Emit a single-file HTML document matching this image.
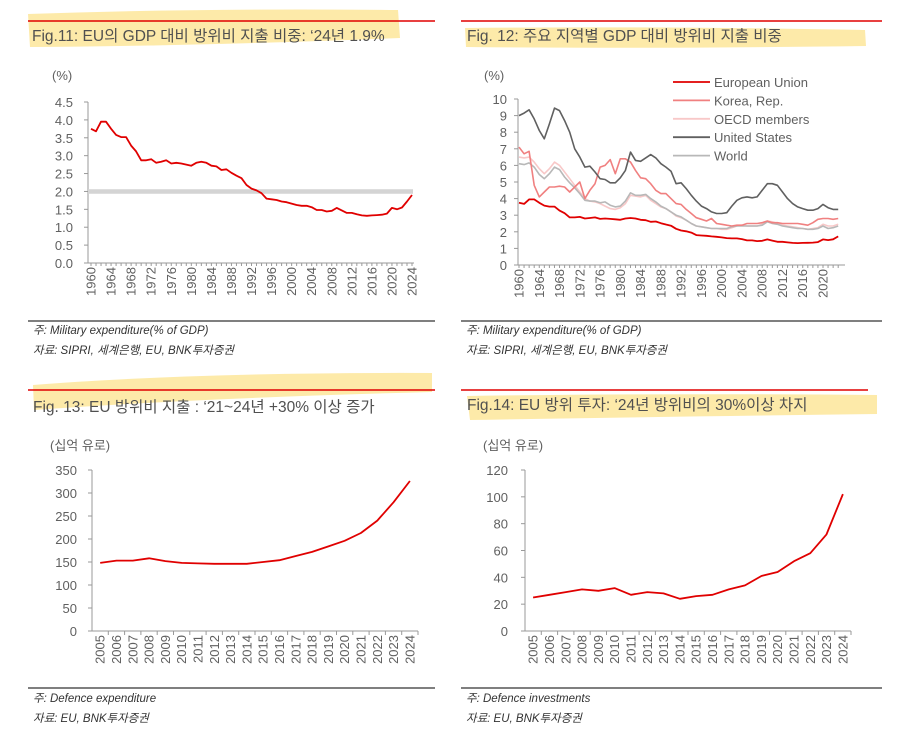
<!DOCTYPE html>
<html><head><meta charset="utf-8">
<style>
body{margin:0;background:#fff;width:913px;height:738px;overflow:hidden}
svg{display:block;font-family:"Liberation Sans","Noto Sans CJK KR",sans-serif}
.t{font-size:15.5px;fill:#505050;font-weight:normal}
.n{font-size:11.5px;fill:#333;font-style:italic}
.ax{font-size:13px;fill:#606060}
</style></head>
<body>
<svg id="s" width="913" height="738">
<path d="M28 14 Q200 8 398 10 L400 38 Q200 46 30 47 Z" fill="#fde69a" opacity="0.85"/>
<path d="M465 28 Q650 26 865 30 L866 46 Q650 49 466 47 Z" fill="#fde69a" opacity="0.85"/>
<path d="M33 385 Q200 372 432 373 L432 392 Q200 398 34 410 Z" fill="#fde69a" opacity="0.85"/>
<path d="M467 396 Q650 393 877 395 L877 414 Q650 417 470 420 Z" fill="#fde69a" opacity="0.85"/>
<line x1="28" y1="21" x2="435" y2="21" stroke="#e00000" stroke-width="1.5"/>
<line x1="461" y1="21" x2="882" y2="21" stroke="#e00000" stroke-width="1.5"/>
<line x1="28" y1="390" x2="435" y2="390" stroke="#e00000" stroke-width="1.5"/>
<line x1="461" y1="390" x2="868" y2="390" stroke="#e00000" stroke-width="1.5"/>
<text class="t" x="32" y="41">Fig.11: EU의 GDP 대비 방위비 지출 비중: ‘24년 1.9%</text>
<text class="t" x="467" y="41">Fig. 12: 주요 지역별 GDP 대비 방위비 지출 비중</text>
<text class="t" x="33" y="412">Fig. 13: EU 방위비 지출 : ‘21~24년 +30% 이상 증가</text>
<text class="t" x="467" y="410">Fig.14: EU 방위 투자: ‘24년 방위비의 30%이상 차지</text>
<line x1="28" y1="321" x2="435" y2="321" stroke="#555" stroke-width="1.5"/>
<line x1="461" y1="321" x2="882" y2="321" stroke="#555" stroke-width="1.5"/>
<line x1="28" y1="688" x2="435" y2="688" stroke="#555" stroke-width="1.5"/>
<line x1="461" y1="688" x2="882" y2="688" stroke="#555" stroke-width="1.5"/>
<text class="n" x="33" y="334">주: Military expenditure(% of GDP)</text>
<text class="n" x="33" y="354">자료: SIPRI, 세계은행, EU, BNK투자증권</text>
<text class="n" x="466" y="334">주: Military expenditure(% of GDP)</text>
<text class="n" x="466" y="354">자료: SIPRI, 세계은행, EU, BNK투자증권</text>
<text class="n" x="33" y="702">주: Defence expenditure</text>
<text class="n" x="33" y="722">자료: EU, BNK투자증권</text>
<text class="n" x="466" y="702">주: Defence investments</text>
<text class="n" x="466" y="722">자료: EU, BNK투자증권</text>
<text class="ax" x="52" y="80">(%)</text>
<text class="ax" x="484" y="80">(%)</text>
<text class="ax" x="50" y="450">(십억 유로)</text>
<text class="ax" x="483" y="450">(십억 유로)</text>
</svg>
<script>
const euGdp=[3.75,3.68,3.95,3.95,3.75,3.58,3.52,3.52,3.28,3.12,2.87,2.87,2.9,2.8,2.83,2.87,2.78,2.8,2.78,2.75,2.72,2.8,2.83,2.8,2.72,2.7,2.6,2.62,2.52,2.44,2.37,2.18,2.08,2.03,1.95,1.8,1.78,1.76,1.72,1.7,1.66,1.62,1.6,1.6,1.56,1.48,1.48,1.44,1.46,1.54,1.47,1.4,1.4,1.36,1.33,1.32,1.33,1.34,1.35,1.38,1.54,1.5,1.55,1.72,1.9];
const korea=[7.1,6.7,6.85,4.8,4.1,4.4,4.7,4.7,4.75,4.7,4.4,4.7,5.0,4.0,4.5,4.9,5.9,6.0,6.35,5.5,6.4,6.4,6.2,5.7,5.25,5.2,4.9,4.5,4.3,4.3,4.0,3.7,3.65,3.35,3.1,2.85,2.75,2.65,2.8,2.5,2.45,2.4,2.35,2.4,2.4,2.5,2.5,2.5,2.55,2.65,2.55,2.55,2.5,2.5,2.5,2.5,2.45,2.4,2.55,2.75,2.8,2.8,2.75,2.8];
const oecd=[6.5,6.45,6.5,6.2,5.8,5.5,5.8,6.2,6.0,5.6,5.2,4.8,4.4,4.0,3.85,3.8,3.7,3.55,3.4,3.35,3.45,3.7,4.2,4.15,4.1,4.2,3.9,3.7,3.5,3.4,3.2,2.95,2.85,2.7,2.5,2.35,2.3,2.25,2.2,2.2,2.15,2.15,2.25,2.35,2.4,2.35,2.35,2.35,2.45,2.65,2.6,2.5,2.4,2.35,2.3,2.25,2.2,2.15,2.2,2.25,2.45,2.35,2.35,2.45];
const usa=[9.0,9.15,9.35,8.8,8.1,7.6,8.5,9.45,9.3,8.7,8.0,7.0,6.5,5.9,5.95,5.6,5.2,5.15,4.95,4.95,5.25,5.7,6.8,6.3,6.25,6.45,6.65,6.45,6.1,5.9,5.65,4.9,4.95,4.6,4.2,3.85,3.55,3.4,3.2,3.1,3.1,3.15,3.55,3.9,4.05,4.1,4.05,4.1,4.5,4.9,4.9,4.8,4.4,4.0,3.7,3.5,3.4,3.3,3.3,3.4,3.65,3.45,3.35,3.35];
const world=[6.1,6.05,6.15,5.9,5.45,5.2,5.5,5.9,5.75,5.3,4.95,4.65,4.3,3.9,3.85,3.85,3.75,3.8,3.6,3.5,3.55,3.85,4.35,4.2,4.2,4.25,4.0,3.8,3.55,3.4,3.2,3.0,2.9,2.7,2.5,2.35,2.3,2.25,2.2,2.2,2.2,2.2,2.3,2.35,2.35,2.35,2.35,2.35,2.4,2.6,2.5,2.45,2.35,2.3,2.25,2.2,2.2,2.15,2.15,2.2,2.35,2.2,2.25,2.35];
const euSpend=[148,153,153,158,152,148,147,146,146,146,150,154,163,172,184,196,213,240,280,326];
const euInvest=[25,27,29,31,30,32,27,29,28,24,26,27,31,34,41,44,52,58,72,102];
const years1=[];for(let y=1960;y<=2024;y++)years1.push(y);
const years2=years1.slice(0,64);
const years3=[];for(let y=2005;y<=2024;y++)years3.push(y);
const ticks1=["0.0","0.5","1.0","1.5","2.0","2.5","3.0","3.5","4.0","4.5"];
const ticks2=["0","1","2","3","4","5","6","7","8","9","10"];
const ticks3=["0","50","100","150","200","250","300","350"];
const ticks4=["0","20","40","60","80","100","120"];
const seriesNames=["European Union","Korea, Rep.","OECD members","United States","World"];
const seriesColors=["#e00000","#f08080","#f8c8c8","#606060","#b8b8b8"];

const S=document.getElementById('s');const NS="http://www.w3.org/2000/svg";
function mk(t,a,p){const e=document.createElementNS(NS,t);for(const k in a)e.setAttribute(k,a[k]);(p||S).appendChild(e);return e;}
function yAxis(x0,x1,y0,y1,ticks,labX,name){
  const max=+ticks[ticks.length-1];const ys=v=>y0-(v/max)*(y0-y1);
  const l=mk('line',{x1:x0,y1:y0,x2:x0,y2:y1,stroke:'#999'});
  
  
  ticks.forEach(t=>{const y=ys(+t);mk('line',{x1:x0-4,y1:y,x2:x0,y2:y,stroke:'#999'});
    const tx=mk('text',{x:labX,y:y+5,'text-anchor':'end',class:'ax'});tx.textContent=t;
    
    });
  const b=mk('line',{x1:x0,y1:y0,x2:x1,y2:y0,stroke:'#999'});
  
  
  return ys;
}
function line(xs,ys,vals,color,w,name){
  const d=vals.map((v,i)=>(i?'L':'M')+xs(i).toFixed(1)+' '+ys(v).toFixed(1)).join(' ');
  const p=mk('path',{d:d,fill:'none',stroke:color,'stroke-width':w,'stroke-linejoin':'round'});
  
  
}
function yearLabels(xs,years,y,step,name){
  years.forEach((yr,i)=>{const x=xs(i);mk('line',{x1:x,y1:y,x2:x,y2:y+3,stroke:'#999'});
    if(i%step===0){const t=mk('text',{x:0,y:0,'text-anchor':'end',class:'ax',transform:`translate(${x+4.5},${y+4}) rotate(-90)`});t.textContent=yr;
    
    }});
}
{const ys=yAxis(88,414,263,102,ticks1,73,'fig11');const st=(412-91)/(years1.length-1);const xs=i=>91+i*st;
 const g=mk('line',{x1:88,y1:ys(2),x2:413,y2:ys(2),stroke:'#d4d4d4','stroke-width':4.5});
 
 
 line(xs,ys,euGdp,'#e00000',1.8,'eu-gdp-line');yearLabels(xs,years1,263,4,'fig11');}
{const ys=yAxis(518,845,265,99,ticks2,507,'fig12');const st=(823-519)/60;const xs=i=>519+i*st;
 const all=[euGdp.slice(0,64),korea,oecd,usa,world];
 [2,4,1,3,0].forEach(k=>line(xs,ys,all[k],seriesColors[k],k===0?1.8:1.6,'series-'+seriesNames[k].toLowerCase().replace(/[^a-z]+/g,'-')));
 yearLabels(xs,years2,265,4,'fig12');
 seriesNames.forEach((n,i)=>{const y=82+i*18.4;
  const g=mk('g',{});
  
  
  mk('line',{x1:673,y1:y,x2:710,y2:y,stroke:seriesColors[i],'stroke-width':1.8},g);
  const t=mk('text',{x:714,y:y+5,class:'ax'},g);t.textContent=n;});}
{const ys=yAxis(92,418,631,470,ticks3,77,'fig13');const bw=(418-92)/years3.length;const xs=i=>92+bw*(i+0.5);
 line(xs,ys,euSpend,'#e00000',1.8,'eu-defence-expenditure-line');
 years3.forEach((yr,i)=>{const x=92+bw*(i+1);mk('line',{x1:x,y1:631,x2:x,y2:635,stroke:'#999'});
  const t=mk('text',{x:0,y:0,'text-anchor':'end',class:'ax',transform:`translate(${xs(i)+4.5},${635}) rotate(-90)`});t.textContent=yr;
  
  });}
{const ys=yAxis(525,851,631,470,ticks4,508,'fig14');const bw=(851-525)/years3.length;const xs=i=>525+bw*(i+0.5);
 line(xs,ys,euInvest,'#e00000',1.8,'eu-defence-investment-line');
 years3.forEach((yr,i)=>{const x=525+bw*(i+1);mk('line',{x1:x,y1:631,x2:x,y2:635,stroke:'#999'});
  const t=mk('text',{x:0,y:0,'text-anchor':'end',class:'ax',transform:`translate(${xs(i)+4.5},${635}) rotate(-90)`});t.textContent=yr;
  
  });}
</script>
</body></html>
